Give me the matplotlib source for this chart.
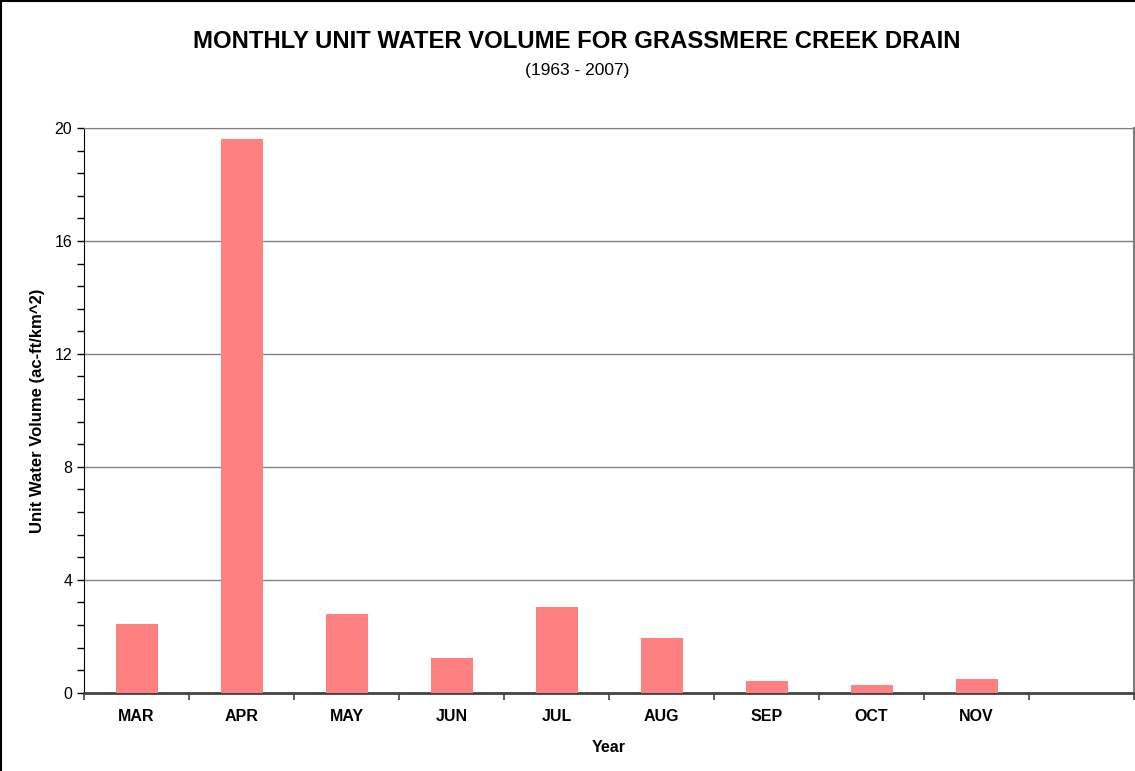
import matplotlib
matplotlib.use("Agg")
from matplotlib import pyplot as plt
from matplotlib.ticker import MultipleLocator
from matplotlib.lines import Line2D

months = ["MAR", "APR", "MAY", "JUN", "JUL", "AUG", "SEP", "OCT", "NOV"]
volumes = [2.44, 19.6, 2.79, 1.23, 3.05, 1.94, 0.43, 0.27, 0.49]
n_slots = 10
y_ticks = [0, 4, 8, 12, 16, 20]

plt.rcParams["font.family"] = ["Liberation Sans", "DejaVu Sans"]

fig = plt.figure(figsize=(11.35, 7.71), dpi=100)
ax = fig.add_axes([84 / 1135, 1 - 692.7 / 771, 1050 / 1135, (692.7 - 128) / 771])

x = list(range(len(months)))
ax.bar(x, volumes, width=0.4, color="#FF8080", zorder=3)

ax.set_xlim(-0.5, n_slots - 0.5)
ax.set_ylim(0, 20)
ax.set_yticks(y_ticks)
ax.yaxis.set_minor_locator(MultipleLocator(0.8))
ax.set_xticks([i - 0.5 for i in range(n_slots + 1)])
ax.set_xticklabels([])
ax.set_xticks(x, minor=True)
ax.set_xticklabels(months, minor=True, fontsize=11.5, fontweight="bold")
ax.tick_params(axis="x", which="minor", length=0, pad=12)
ax.tick_params(axis="x", which="major", length=5, width=1.2, color="#444444", direction="out")
ax.tick_params(axis="y", which="both", length=5, width=1, color="black", direction="out", labelsize=11.5)

ax.grid(axis="y", which="major", color="#808080", linewidth=1, zorder=0)
ax.spines["left"].set_color("black")
ax.spines["bottom"].set_color("#444444")
ax.spines["bottom"].set_linewidth(2)
ax.spines["top"].set_color("#808080")
ax.spines["right"].set_color("#808080")
ax.spines["right"].set_linewidth(1.5)

ax.set_xlabel("Year", fontsize=11.5, fontweight="bold", labelpad=11)
ax.set_ylabel("Unit Water Volume (ac-ft/km^2)", fontsize=12, fontweight="bold", labelpad=7)

fig.text(0.5085, 1 - 41 / 771, "MONTHLY UNIT WATER VOLUME FOR GRASSMERE CREEK DRAIN",
         ha="center", va="center", fontsize=17.2, fontweight="bold")
fig.text(0.5085, 1 - 70 / 771, "(1963 - 2007)", ha="center", va="center", fontsize=12.5)

# outer chart border (left and top edges visible)
fig.add_artist(Line2D([0.0009, 0.0009], [0, 0.999], color="black", linewidth=1.5, transform=fig.transFigure))
fig.add_artist(Line2D([0, 1], [0.9985, 0.9985], color="black", linewidth=1.5, transform=fig.transFigure))

fig.savefig("out.png", dpi=100)
